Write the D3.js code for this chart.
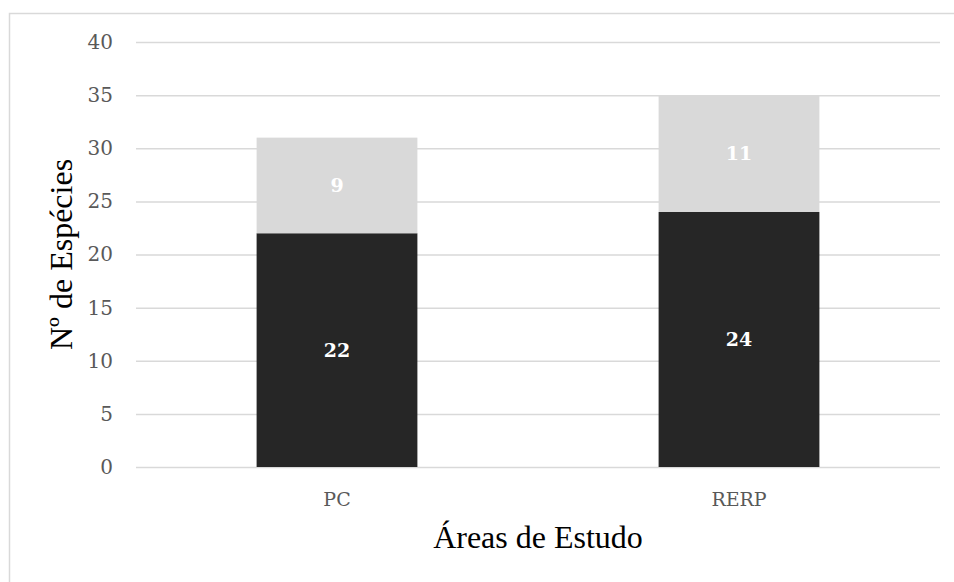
<!DOCTYPE html>
<html>
<head>
<meta charset="utf-8">
<script src="https://cdn.jsdelivr.net/npm/d3@7"></script>
<style>
  html, body { margin: 0; padding: 0; background: #fff; }
  svg { display: block; }
</style>
</head>
<body>
<svg id="chart" width="954" height="582"></svg>
<script>
// Study areas and species counts per stack segment
const categories = ["PC", "RERP"];
const lowerValues = [22, 24];
const upperValues = [9, 11];
const yTicks = [0, 5, 10, 15, 20, 25, 30, 35, 40];

const svg = d3.select("#chart");
const W = 954, H = 582;
const margin = { left: 136, right: 14, top: 42, bottom: 115 };

// Outer frame
svg.append("rect")
  .attr("x", 9.5).attr("y", 13.5)
  .attr("width", 960).attr("height", 600)
  .attr("fill", "#fff").attr("stroke", "#d9d9d9").attr("stroke-width", 1.5);

const x = d3.scaleBand()
  .domain(categories)
  .range([margin.left, W - margin.right])
  .paddingInner(0.6)
  .paddingOuter(0.3);

const y = d3.scaleLinear()
  .domain([0, 40])
  .range([H - margin.bottom, margin.top]);

// Gridlines and y tick labels
const yAxis = d3.axisLeft(y)
  .tickValues(yTicks)
  .tickSize(-(W - margin.left - margin.right))
  .tickPadding(23);

const gy = svg.append("g")
  .attr("transform", `translate(${margin.left},0)`)
  .call(yAxis);
gy.select(".domain").remove();
gy.selectAll(".tick line").attr("stroke", "#d9d9d9").attr("stroke-width", 1.5);
gy.selectAll(".tick text")
  .attr("fill", "#595959")
  .style("font-family", "'DejaVu Serif', serif")
  .style("font-size", "20px");

// x category labels
const xAxis = d3.axisBottom(x).tickSize(0).tickPadding(26);
const gx = svg.append("g")
  .attr("transform", `translate(0,${y(0)})`)
  .call(xAxis);
gx.select(".domain").remove();
gx.selectAll(".tick text")
  .attr("fill", "#595959")
  .style("font-family", "'DejaVu Serif', serif")
  .style("font-size", "19px");

// Stacked bars
const rows = categories.map((c, i) => ({ cat: c, lower: lowerValues[i], upper: upperValues[i] }));
const stack = d3.stack().keys(["lower", "upper"])(rows);
const colors = { lower: "#262626", upper: "#d9d9d9" };

stack.forEach(layer => {
  const g = svg.append("g");
  g.selectAll("rect")
    .data(layer)
    .join("rect")
    .attr("x", d => x(d.data.cat))
    .attr("width", x.bandwidth())
    .attr("y", d => y(d[1]))
    .attr("height", d => y(d[0]) - y(d[1]))
    .attr("fill", colors[layer.key]);
  g.selectAll("text")
    .data(layer)
    .join("text")
    .attr("x", d => x(d.data.cat) + x.bandwidth() / 2)
    .attr("y", d => (y(d[0]) + y(d[1])) / 2)
    .attr("dy", "0.36em")
    .attr("text-anchor", "middle")
    .attr("fill", "#fff")
    .style("font-family", "'DejaVu Serif', serif")
    .style("font-weight", "bold")
    .style("font-size", "19px")
    .text(d => d[1] - d[0]);
});

// Axis titles
svg.append("text")
  .attr("transform", `translate(72,${y(20)}) rotate(-90)`)
  .attr("text-anchor", "middle")
  .attr("fill", "#000")
  .style("font-family", "'Liberation Serif', 'Times New Roman', serif")
  .style("font-size", "32px")
  .text("Nº de Espécies");

svg.append("text")
  .attr("x", (margin.left + W - margin.right) / 2)
  .attr("y", 548)
  .attr("text-anchor", "middle")
  .attr("fill", "#000")
  .style("font-family", "'Liberation Serif', 'Times New Roman', serif")
  .style("font-size", "32px")
  .text("Áreas de Estudo");
</script>
</body>
</html>
